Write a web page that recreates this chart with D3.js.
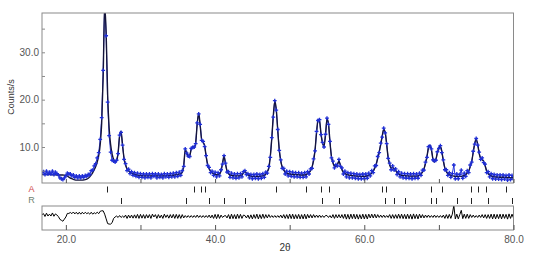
<!DOCTYPE html>
<html><head><meta charset="utf-8">
<script src="https://cdn.jsdelivr.net/npm/d3@7"></script>
<style>
html,body{margin:0;padding:0;background:#fff;}
svg{display:block;font-family:"Liberation Sans",Arial,sans-serif;}
</style></head>
<body><svg id="c" width="544" height="260"></svg>
<script>
// scan grid: start, step, count (2θ)
const scanStart = 16.8, scanStep = 0.2, scanCount = 317;

// calculated profile (counts/s) on the scan grid
const calculated = [
4.20,
4.20,4.20,4.20,4.20,4.20, 4.20,4.15,4.15,4.15,4.10, 4.10,4.10,4.10,4.10,4.05,
4.00,3.85,3.65,3.45,3.30, 3.15,3.05,3.00,3.00,3.00, 3.00,3.00,3.05,3.10,3.20,
3.40,3.70,4.10,4.60,5.20, 5.90,6.80,8.20,10.5,15.0, 25.0,40.0,34.0,21.0,14.0,
10.5,8.5,7.4,6.9,7.1, 8.8,12.3,13.3,10.3,7.6, 6.2,5.4,5.0,4.7,4.5,
4.35,4.25,4.15,4.05,4.0, 3.95,3.95,3.9,3.9,3.9, 3.9,3.9,3.9,3.9,3.9,
3.9,3.9,3.9,3.9,3.9, 3.9,3.9,3.9,3.95,3.95, 4.0,4.0,4.05,4.1,4.15,
4.2,4.3,4.4,4.6,6.2, 9.4,8.9,7.9,8.2,9.5, 10.1,9.8,10.9,14.8,17.2,
14.6,11.6,11.0,10.3,8.0, 6.3,5.4,4.9,4.6,4.4, 4.25,4.15,4.15,4.3,4.9,
6.6,8.1,6.4,5.0,4.4, 4.1,4.0,3.95,3.9,3.9, 3.9,3.9,3.95,4.1,4.5,
4.8,4.5,4.1,3.95,3.85, 3.8,3.8,3.8,3.8,3.8, 3.8,3.85,3.9,4.0,4.3,
4.8,5.5,8.0,11.8,16.5, 19.6,18.0,13.5,9.5,7.0, 5.8,5.1,4.7,4.5,4.35,
4.3,4.25,4.2,4.2,4.2, 4.15,4.15,4.1,4.1,4.1, 4.1,4.2,4.35,4.6,5.0,
5.8,7.1,9.4,13.0,15.8, 15.5,12.8,10.8,10.2,12.5, 15.9,15.0,11.0,8.0,6.6,
6.0,5.9,6.3,7.0,6.2, 5.2,4.7,4.4,4.25,4.15, 4.05,4.0,3.95,3.9,3.9,
3.85,3.85,3.8,3.8,3.8, 3.8,3.85,3.9,4.0,4.2, 4.5,4.9,5.5,6.4,7.6,
9.0,10.5,12.3,13.7,13.2, 10.5,7.8,6.2,5.6,5.6, 5.5,5.0,4.6,4.3,4.1,
4.0,3.95,3.95,3.9,3.9, 3.85,3.85,3.85,3.85,3.85, 3.85,3.9,4.0,4.3,4.7,
5.4,6.5,8.0,9.8,10.4, 9.4,7.5,6.8,7.4,8.8, 9.9,10.1,9.0,7.0,5.6,
4.8,4.4,4.15,4.0,3.9, 3.85,3.8,3.8,3.8,3.8, 3.8,3.85,4.0,4.2,4.5,
5.0,5.8,7.0,8.8,10.8, 11.6,10.6,8.6,7.6,7.3, 7.0,6.0,5.0,4.4,4.1,
3.9,3.8,3.7,3.7,3.65, 3.65,3.6,3.6,3.6,3.6, 3.55,3.55,3.55,3.5,3.5,
3.5
];

// observed intensities (counts/s) on the scan grid
const observed = [
4.6,
4.8,4.2,4.9,4.3,4.7, 4.3,4.9,4.2,4.7,4.4, 4.1,3.5,3.3,3.1,3.5,
3.9,4.5,4.3,4.3,3.9, 4.1,3.6,3.9,3.5,3.9, 3.5,3.9,3.6,4.0,3.8,
4.2,4.2,5.0,5.1,6.0, 6.5,7.7,8.8,11.6,16.2, 26.2,40.5,33.5,19.5,12.4,
8.9,7.2,7.0,6.8,7.2, 8.6,12.5,13.1,10.4,7.4, 6.5,5.0,5.3,4.4,4.8,
4.0,4.6,3.8,4.5,3.6, 4.4,3.6,4.3,3.5,4.3, 3.6,4.3,3.5,4.4,3.8,
4.3,3.5,4.3,3.6,4.2, 3.5,4.4,3.7,4.3,3.6, 4.4,3.7,4.5,3.7,4.6,
3.8,4.7,4.0,5.0,5.9, 9.6,8.7,8.1,8.0,9.7, 9.9,10.0,10.7,15.1,17.0,
14.8,11.4,11.2,10.1,8.2, 6.1,5.7,4.6,4.9,4.0, 4.7,3.7,4.6,3.9,5.2,
6.4,8.2,6.6,4.7,4.8, 3.6,4.5,3.5,4.3,3.4, 4.4,3.5,4.4,3.7,4.8,
5.0,4.2,4.4,3.5,4.2, 3.3,4.2,3.4,4.3,3.3, 4.2,3.4,4.4,3.6,4.7,
4.5,5.9,7.8,12.0,16.3, 19.8,17.8,13.7,9.3,7.3, 5.5,5.5,4.3,4.9,3.9,
4.8,3.8,4.7,3.7,4.6, 3.7,4.6,3.6,4.5,3.6, 4.6,3.7,4.8,4.3,5.4,
5.5,7.5,9.2,13.3,15.6, 15.8,12.6,11.0,10.0,12.7, 16.1,14.8,11.2,7.7,7.0,
5.6,6.3,6.0,7.4,5.9, 5.6,4.3,4.9,3.7,4.6, 3.5,4.5,3.5,4.4,3.4,
4.3,3.3,4.2,3.3,4.3, 3.3,4.3,3.4,4.5,3.9, 5.0,4.6,6.0,6.1,8.0,
8.8,10.8,12.1,14.0,13.0, 10.7,7.6,6.6,5.2,6.0, 5.1,5.4,4.2,4.8,3.7,
4.5,3.5,4.4,3.4,4.4, 3.4,4.3,3.3,4.4,3.4, 4.3,3.4,4.5,4.0,5.1,
5.1,6.8,7.8,10.1,10.2, 9.6,7.3,7.1,7.2,9.0, 9.7,10.3,8.8,7.3,5.2,
5.2,4.0,4.6,3.6,4.4, 6.2,3.3,4.3,3.3,4.2, 5.1,3.4,4.5,3.8,5.0,
4.6,6.2,6.8,9.1,10.6, 11.8,10.4,8.9,7.4,7.7, 6.7,6.4,4.6,4.8,3.7,
4.4,3.3,4.2,3.2,4.1, 3.2,4.1,3.1,4.1,3.2, 4.0,3.0,4.1,3.1,4.0,
3.2
];

// reflection positions (2θ) for the two phases
const phaseNames = ["A", "R"];
const reflectionsA = [25.55, 37.15, 38.05, 38.7, 48.2, 52.15, 54.15, 55.25, 62.35, 62.95, 69.0, 70.45, 74.35, 75.2, 76.25, 79.05];
const reflectionsR = [27.41, 36.07, 39.16, 41.2, 44.02, 54.33, 56.57, 62.83, 63.94, 65.5, 68.99, 69.66, 72.42, 74.35, 76.57, 79.79];

// axis ticks
const yTicks = [5, 10, 15, 20, 25, 30, 35];
const yTickLabels = [10, 20, 30];
const xTicks = [20, 30, 40, 50, 60, 70, 80];
const xTickLabels = [20, 40, 60, 80];

const twoTheta = d3.range(scanCount).map(i => +(scanStart + i * scanStep).toFixed(2));
const points = twoTheta.map((t, i) => ({t, obs: observed[i], calc: calculated[i], diff: observed[i] - calculated[i]}));

const svg = d3.select("#c");
const frame = "#8a8a8a";
const x = d3.scaleLinear().domain([16.8, 80.0]).range([42, 513.5]);
const y = d3.scaleLinear().domain([2.4, 38.3]).range([183, 13]);
const yd = d3.scaleLinear().domain([-2.85, 2.22]).range([230, 206]);

svg.append("defs").append("clipPath").attr("id", "clipMain")
  .append("rect").attr("x", 42).attr("y", 13).attr("width", 471.5).attr("height", 170);
svg.select("defs").append("clipPath").attr("id", "clipDiff")
  .append("rect").attr("x", 42).attr("y", 206).attr("width", 471.5).attr("height", 24);

const gObs = svg.append("g").attr("clip-path", "url(#clipMain)");
// observed trace (thin zig-zag filling the scatter band)
gObs.append("path").datum(points)
  .attr("d", d3.line().x(d => x(d.t)).y(d => y(d.obs)))
  .attr("fill", "none").attr("stroke", "#2a38dc").attr("stroke-width", 1);
// calculated line
gObs.append("path").datum(points)
  .attr("d", d3.line().x(d => x(d.t)).y(d => y(d.calc)).curve(d3.curveMonotoneX))
  .attr("fill", "none").attr("stroke", "#14143a").attr("stroke-width", 1.4);
// observed markers
gObs.selectAll("path.obs").data(points).join("path")
  .attr("class", "obs")
  .attr("transform", d => `translate(${x(d.t)},${y(d.obs)})`)
  .attr("d", "M-1.9,0H1.9M0,-1.9V1.9")
  .attr("stroke", "#1f2ed6").attr("stroke-width", 1.3).attr("fill", "none");

// main frame
svg.append("rect").attr("x", 42).attr("y", 13).attr("width", 471.5).attr("height", 170)
  .attr("fill", "none").attr("stroke", frame).attr("stroke-width", 1);

// y axis
const yAxis = d3.axisLeft(y).tickValues(yTicks).tickSize(-3).tickPadding(3)
  .tickFormat(v => yTickLabels.includes(v) ? d3.format(".1f")(v) : "");
const gy = svg.append("g").attr("transform", "translate(42,0)").call(yAxis);
gy.select(".domain").remove();
gy.selectAll("line").attr("stroke", frame);
gy.selectAll("text").attr("fill", "#555").attr("font-size", 10).attr("font-family", "Liberation Sans, Arial, sans-serif");

// x ticks on main plot bottom
const gxm = svg.append("g").attr("transform", "translate(0,183)")
  .call(d3.axisBottom(x).tickValues(xTicks).tickSize(-4).tickFormat(""));
gxm.select(".domain").remove();
gxm.selectAll("line").attr("stroke", "#555");

// reflection ticks
const rows = [{name: phaseNames[0], pos: reflectionsA, y0: 186.5, color: "#d04848"},
              {name: phaseNames[1], pos: reflectionsR, y0: 198, color: "#6f7f6f"}];
rows.forEach(r => {
  svg.append("g").selectAll("line").data(r.pos).join("line")
    .attr("x1", d => Math.round(x(d)) + 0.5).attr("x2", d => Math.round(x(d)) + 0.5)
    .attr("y1", r.y0).attr("y2", r.y0 + 6)
    .attr("stroke", "#222").attr("stroke-width", 1);
  svg.append("text").attr("x", 31.5).attr("y", r.y0 + 5).attr("text-anchor", "middle")
    .attr("font-size", 9).attr("fill", r.color).text(r.name);
});

// difference plot
svg.append("path").datum(points).attr("clip-path", "url(#clipDiff)")
  .attr("d", d3.line().x(d => x(d.t)).y(d => yd(d.diff)))
  .attr("fill", "none").attr("stroke", "#000").attr("stroke-width", 1);
svg.append("rect").attr("x", 42).attr("y", 206).attr("width", 471.5).attr("height", 24)
  .attr("fill", "none").attr("stroke", frame).attr("stroke-width", 1);

const gx = svg.append("g").attr("transform", "translate(0,230)")
  .call(d3.axisBottom(x).tickValues(xTicks).tickSize(-5).tickPadding(6)
    .tickFormat(v => xTickLabels.includes(v) ? d3.format(".1f")(v) : ""));
gx.select(".domain").remove();
gx.selectAll("line").attr("stroke", "#555");
gx.selectAll("text").attr("fill", "#555").attr("font-size", 10).attr("font-family", "Liberation Sans, Arial, sans-serif");

// axis titles
svg.append("text").attr("x", 285).attr("y", 250.5).attr("text-anchor", "middle")
  .attr("font-size", 10).attr("fill", "#333").text("2θ");
svg.append("text").attr("transform", "translate(14,97) rotate(-90)").attr("text-anchor", "middle")
  .attr("font-size", 9).attr("fill", "#333").text("Counts/s");
</script>
</body></html>
